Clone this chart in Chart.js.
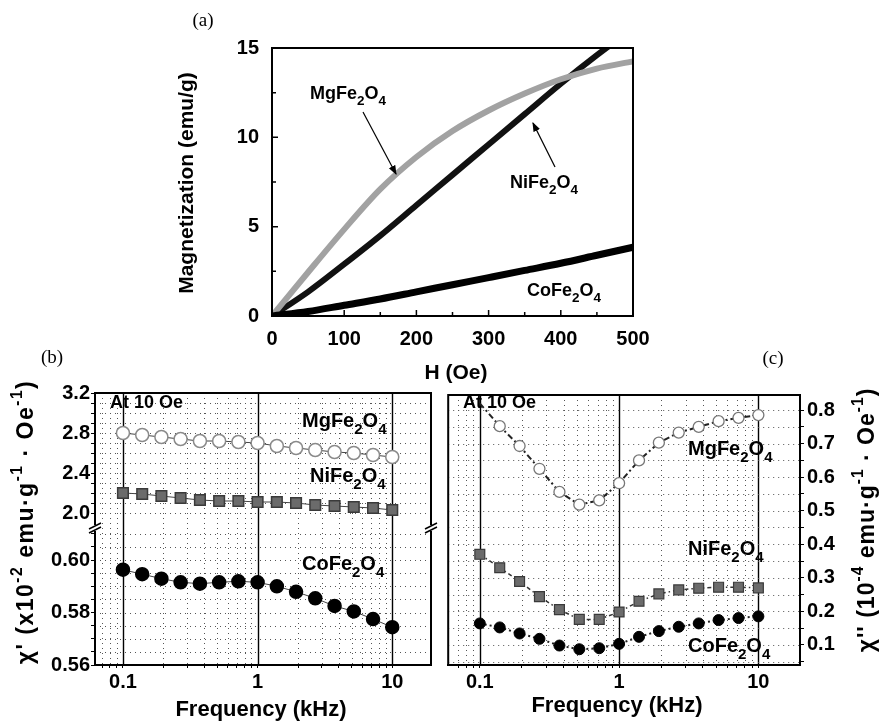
<!DOCTYPE html>
<html>
<head>
<meta charset="utf-8">
<script src="https://cdn.jsdelivr.net/npm/chart.js@4.4.1/dist/chart.umd.min.js"></script>
<style>
  html, body { margin: 0; padding: 0; background: #fff; }
  #page { position: relative; width: 884px; height: 727px; overflow: hidden;
          font-family: 'Liberation Sans', Arial, sans-serif; }
  canvas { position: absolute; }
  .t { position: absolute; font-weight: bold; white-space: nowrap; line-height: 1; color: #000; }
  .t sub { font-size: 75%; vertical-align: -0.45em; line-height: 0; }
  .t sup { font-size: 68%; vertical-align: 0.65em; line-height: 0; }
  .c { transform: translate(-50%, -50%); }
  .l { transform: translateY(-50%); }
  .rot { transform: translate(-50%, -50%) rotate(-90deg); }
  .panel { position: absolute; font-family: 'Liberation Serif', 'Times New Roman', serif;
           font-size: 19px; transform: translate(-50%, -50%); }
</style>
</head>
<body>
<div id="page">
  <canvas id="chartA" width="500" height="320" style="left:160px;top:30px"></canvas>
  <canvas id="chartB" width="440" height="320" style="left:0px;top:380px"></canvas>
  <canvas id="chartC" width="444" height="320" style="left:440px;top:380px"></canvas>

  <svg width="884" height="727" style="position:absolute;left:0;top:0;pointer-events:none">
    <defs>
      <marker id="ah" markerWidth="8" markerHeight="8" refX="7" refY="4" orient="auto">
        <path d="M0,1 L8,4 L0,7 z" fill="#000"/>
      </marker>
    </defs>
    <line x1="363" y1="112" x2="396" y2="174" stroke="#000" stroke-width="1.2" marker-end="url(#ah)"/>
    <line x1="555" y1="167" x2="533" y2="123" stroke="#000" stroke-width="1.2" marker-end="url(#ah)"/>
  </svg>

  <!-- panel letters -->
  <div class="panel" style="left:203px;top:20px">(a)</div>
  <div class="panel" style="left:52px;top:357px">(b)</div>
  <div class="panel" style="left:773px;top:358px">(c)</div>

  <!-- panel (a) texts -->
  <div class="t rot" style="left:185px;top:183px;font-size:21px">Magnetization (emu/g)</div>
  <div class="t c" style="left:456px;top:371px;font-size:21px">H (Oe)</div>
  <div class="t l" style="left:310px;top:93px;font-size:18px">MgFe<sub>2</sub>O<sub>4</sub></div>
  <div class="t l" style="left:510px;top:182px;font-size:18px">NiFe<sub>2</sub>O<sub>4</sub></div>
  <div class="t l" style="left:527px;top:290px;font-size:18px">CoFe<sub>2</sub>O<sub>4</sub></div>

  <!-- panel (b) texts -->
  <div class="t rot" style="left:25px;top:522px;font-size:23px;letter-spacing:1.5px">&chi;' (x10<sup>-2</sup> emu&middot;g<sup>-1</sup> &middot; Oe<sup>-1</sup>)</div>
  <div class="t c" style="left:261px;top:709px;font-size:22px">Frequency (kHz)</div>
  <div class="t l" style="left:110px;top:402px;font-size:18px">At 10 Oe</div>
  <div class="t l" style="left:302px;top:420px;font-size:20px">MgFe<sub>2</sub>O<sub>4</sub></div>
  <div class="t l" style="left:310px;top:475px;font-size:20px">NiFe<sub>2</sub>O<sub>4</sub></div>
  <div class="t l" style="left:302px;top:563px;font-size:20px">CoFe<sub>2</sub>O<sub>4</sub></div>

  <!-- panel (c) texts -->
  <div class="t rot" style="left:866px;top:520px;font-size:23px;letter-spacing:1px">&chi;'' (10<sup>-4</sup> emu&middot;g<sup>-1</sup> &middot; Oe<sup>-1</sup>)</div>
  <div class="t c" style="left:617px;top:705px;font-size:22px">Frequency (kHz)</div>
  <div class="t l" style="left:463px;top:402px;font-size:18px">At 10 Oe</div>
  <div class="t l" style="left:688px;top:448px;font-size:20px">MgFe<sub>2</sub>O<sub>4</sub></div>
  <div class="t l" style="left:688px;top:548px;font-size:20px">NiFe<sub>2</sub>O<sub>4</sub></div>
  <div class="t l" style="left:688px;top:645px;font-size:20px">CoFe<sub>2</sub>O<sub>4</sub></div>
</div>

<script>
// (a) magnetization vs field
var fieldH = [0, 50, 100, 150, 200, 250, 300, 350, 400, 450, 500];
var magMg = [0, 2.45, 4.85, 7.1, 8.9, 10.35, 11.5, 12.45, 13.25, 13.85, 14.25];
var magNi = [0, 1.35, 2.9, 4.5, 6.2, 7.9, 9.6, 11.3, 13.0, 14.6, 16.1];
var magCo = [0, 0.25, 0.6, 0.95, 1.35, 1.75, 2.15, 2.55, 2.95, 3.4, 3.85];

// (b), (c) susceptibility vs frequency
var freqKHz = [0.1, 0.139, 0.193, 0.268, 0.373, 0.518, 0.72, 1.0, 1.39, 1.93, 2.68, 3.73, 5.18, 7.2, 10];
var chiRealMg = [2.80, 2.78, 2.76, 2.74, 2.72, 2.72, 2.71, 2.70, 2.67, 2.65, 2.63, 2.61, 2.60, 2.58, 2.56];
var chiRealNi = [2.20, 2.19, 2.17, 2.15, 2.13, 2.12, 2.12, 2.11, 2.11, 2.10, 2.08, 2.07, 2.06, 2.05, 2.03];
var chiRealCo = [0.5963, 0.5946, 0.5929, 0.5915, 0.5910, 0.5915, 0.5919, 0.5915, 0.5900, 0.5879, 0.5854, 0.5825, 0.5804, 0.5775, 0.5744];
var chiImagMg = [0.82, 0.752, 0.693, 0.625, 0.556, 0.518, 0.531, 0.582, 0.650, 0.703, 0.733, 0.750, 0.767, 0.777, 0.785];
var chiImagNi = [0.370, 0.330, 0.289, 0.244, 0.205, 0.176, 0.176, 0.198, 0.230, 0.252, 0.264, 0.269, 0.272, 0.272, 0.270];
var chiImagCo = [0.164, 0.152, 0.134, 0.118, 0.098, 0.087, 0.090, 0.103, 0.124, 0.141, 0.154, 0.164, 0.174, 0.180, 0.185];

// ticks / grid
var freqGrid = [0.07, 0.08, 0.09, 0.1, 0.2, 0.3, 0.4, 0.5, 0.6, 0.7, 0.8, 0.9,
                1, 2, 3, 4, 5, 6, 7, 8, 9, 10];
var freqLabels = [0.1, 1, 10];
var chiHiTicks = [2.0, 2.1, 2.2, 2.3, 2.4, 2.5, 2.6, 2.7, 2.8, 2.9, 3.0, 3.1, 3.2];
var chiHiLabels = [2.0, 2.4, 2.8, 3.2];
var chiLoTicks = [0.56, 0.565, 0.57, 0.575, 0.58, 0.585, 0.59, 0.595, 0.60, 0.605, 0.61];
var chiLoLabels = [0.56, 0.58, 0.60];
var chiImTicks = [0.05, 0.1, 0.15, 0.2, 0.25, 0.3, 0.35, 0.4, 0.45, 0.5, 0.55, 0.6, 0.65, 0.7, 0.75, 0.8];
var chiImLabels = [0.1, 0.2, 0.3, 0.4, 0.5, 0.6, 0.7, 0.8];

Chart.defaults.font.family = "'Liberation Sans', Arial, sans-serif";
Chart.defaults.color = '#000';

function pts(xs, ys) {
    return xs.map(function (x, i) { return { x: x, y: ys[i] }; });
}

function has(list, v) {
    return list.some(function (u) { return Math.abs(u - v) < 1e-9; });
}

var boldTick = { size: 20, weight: 'bold' };

var frame = {
    id: 'frame',
    afterDraw: function (chart) {
        var a = chart.chartArea, ctx = chart.ctx;
        ctx.save();
        ctx.strokeStyle = '#000';
        ctx.lineWidth = 2;
        ctx.strokeRect(a.left, a.top, a.right - a.left, a.bottom - a.top);
        ctx.restore();
    }
};

// dotted grid, solid lines at the decades
var dotGrid = {
    id: 'dotGrid',
    beforeDatasetsDraw: function (chart) {
        var ctx = chart.ctx, a = chart.chartArea;
        ctx.save();
        Object.keys(chart.scales).forEach(function (id) {
            var s = chart.scales[id];
            var horiz = s.isHorizontal();
            s.ticks.forEach(function (t) {
                var major = horiz && has(freqLabels, t.value);
                var p = Math.round(s.getPixelForValue(t.value)) + 0.5;
                if (!horiz && (p < s.top + 1 || p > s.bottom - 1)) return;
                ctx.beginPath();
                ctx.setLineDash(major ? [] : [1, 4]);
                ctx.strokeStyle = major ? '#000' : '#555';
                ctx.lineWidth = major ? 1.4 : 1;
                if (horiz) { ctx.moveTo(p, a.top); ctx.lineTo(p, a.bottom); }
                else { ctx.moveTo(a.left, p); ctx.lineTo(a.right, p); }
                ctx.stroke();
            });
        });
        ctx.restore();
    }
};

var innerTicks = {
    id: 'innerTicks',
    afterDraw: function (chart) {
        var ctx = chart.ctx, a = chart.chartArea, x = chart.scales.x, y = chart.scales.y;
        ctx.save();
        ctx.strokeStyle = '#000';
        ctx.lineWidth = 1.5;
        ctx.beginPath();
        x.ticks.forEach(function (t) {
            var px = x.getPixelForValue(t.value);
            var len = t.value % 100 === 0 ? 6 : 4;
            ctx.moveTo(px, a.bottom); ctx.lineTo(px, a.bottom - len);
        });
        y.ticks.forEach(function (t) {
            var py = y.getPixelForValue(t.value);
            var len = t.value % 5 === 0 ? 6 : 4;
            ctx.moveTo(a.left, py); ctx.lineTo(a.left + len, py);
        });
        ctx.stroke();
        ctx.restore();
    }
};

var axisBreak = {
    id: 'axisBreak',
    afterDraw: function (chart) {
        var ctx = chart.ctx, a = chart.chartArea, y = chart.scales.yLo.top;
        ctx.save();
        ctx.strokeStyle = '#000';
        ctx.lineWidth = 1.5;
        [a.left, a.right].forEach(function (x) {
            ctx.fillStyle = '#fff';
            ctx.fillRect(x - 3, y - 3, 6, 6);
            ctx.beginPath();
            ctx.moveTo(x - 6, y + 1); ctx.lineTo(x + 6, y - 5);
            ctx.moveTo(x - 6, y + 5); ctx.lineTo(x + 6, y - 1);
            ctx.stroke();
        });
        ctx.restore();
    }
};

function freqAxis(min, max) {
    return {
        type: 'logarithmic', min: min, max: max,
        afterBuildTicks: function (s) {
            s.ticks = freqGrid.filter(function (v) { return v >= min && v <= max; })
                .map(function (v) { return { value: v }; });
        },
        afterFit: function (s) { s.height = 35; },
        ticks: {
            autoSkip: false, maxRotation: 0, padding: 2, font: boldTick,
            callback: function (v) { return has(freqLabels, v) ? String(v) : ''; }
        },
        grid: { drawOnChartArea: false, tickLength: 3, color: '#000' },
        border: { color: '#000', width: 2 }
    };
}

function valueAxis(opts) {
    return {
        type: 'linear', position: opts.position, min: opts.min, max: opts.max,
        stack: opts.stack, stackWeight: opts.weight,
        afterBuildTicks: function (s) {
            s.ticks = opts.ticks.map(function (v) { return { value: v }; });
        },
        afterFit: function (s) { s.width = opts.width; },
        ticks: {
            autoSkip: false, padding: opts.padding, font: boldTick,
            callback: function (v) { return has(opts.labels, v) ? v.toFixed(opts.digits) : ''; }
        },
        grid: { drawOnChartArea: false, tickLength: 4, color: '#000' },
        border: { color: '#000', width: 2 }
    };
}

// ---------- (a)
new Chart(document.getElementById('chartA'), {
    type: 'line',
    data: {
        datasets: [
            { data: pts(fieldH, magCo), borderColor: '#000', borderWidth: 7 },
            { data: pts(fieldH, magMg), borderColor: '#a2a2a2', borderWidth: 6 },
            { data: pts(fieldH, magNi), borderColor: '#111', borderWidth: 6 },
            { data: pts(fieldH, magNi), borderColor: '#707070', borderWidth: 3 }
        ]
    },
    options: {
        responsive: false, animation: false,
        layout: { padding: { top: 18, right: 27 } },
        elements: { point: { radius: 0 }, line: { cubicInterpolationMode: 'monotone' } },
        datasets: { line: { clip: 1 } },
        plugins: { legend: { display: false }, tooltip: { enabled: false } },
        scales: {
            x: {
                type: 'linear', min: 0, max: 500,
                afterFit: function (s) { s.height = 34; },
                ticks: {
                    stepSize: 50, autoSkip: false, maxRotation: 0, padding: 3, font: boldTick,
                    callback: function (v) { return v % 100 === 0 ? v : ''; }
                },
                grid: { display: false },
                border: { color: '#000', width: 2 }
            },
            y: {
                type: 'linear', min: 0, max: 15,
                afterFit: function (s) { s.width = 112; },
                ticks: {
                    stepSize: 2.5, autoSkip: false, padding: 5, font: boldTick,
                    callback: function (v) { return v % 5 === 0 ? v : ''; }
                },
                grid: { display: false },
                border: { color: '#000', width: 2 }
            }
        }
    },
    plugins: [frame, innerTicks]
});

// ---------- (b)
var lineB = { showLine: true, borderColor: '#444', borderWidth: 1, pointBorderWidth: 1.5 };
new Chart(document.getElementById('chartB'), {
    type: 'scatter',
    data: {
        datasets: [
            Object.assign({}, lineB, { data: pts(freqKHz, chiRealMg), yAxisID: 'yHi',
                pointStyle: 'circle', pointRadius: 6.5, pointBackgroundColor: '#fff', pointBorderColor: '#8a8a8a' }),
            Object.assign({}, lineB, { data: pts(freqKHz, chiRealNi), yAxisID: 'yHi',
                pointStyle: 'rect', pointRadius: 7.5, pointBackgroundColor: '#6b6b6b', pointBorderColor: '#3a3a3a' }),
            Object.assign({}, lineB, { data: pts(freqKHz, chiRealCo), yAxisID: 'yLo',
                pointStyle: 'circle', pointRadius: 6.5, pointBackgroundColor: '#000', pointBorderColor: '#000' })
        ]
    },
    options: {
        responsive: false, animation: false,
        layout: { padding: { top: 13, right: 7 } },
        plugins: { legend: { display: false }, tooltip: { enabled: false } },
        scales: {
            x: freqAxis(0.062, 19.4),
            yLo: valueAxis({ position: 'left', stack: 'b', weight: 137, min: 0.56, max: 0.6122,
                ticks: chiLoTicks, labels: chiLoLabels, digits: 2, width: 95, padding: 1 }),
            yHi: valueAxis({ position: 'left', stack: 'b', weight: 135, min: 1.85, max: 3.2,
                ticks: chiHiTicks, labels: chiHiLabels, digits: 1, width: 95, padding: 1 })
        }
    },
    plugins: [dotGrid, frame, axisBreak]
});

// ---------- (c)
new Chart(document.getElementById('chartC'), {
    type: 'scatter',
    data: {
        datasets: [
            { data: pts(freqKHz, chiImagMg), showLine: true, borderColor: '#222', borderWidth: 2,
              borderDash: [6, 3, 2, 3],
              pointStyle: 'circle', pointRadius: [0, 5.5, 5.5, 5.5, 5.5, 5.5, 5.5, 5.5, 5.5, 5.5, 5.5, 5.5, 5.5, 5.5, 5.5],
              pointBorderWidth: 1.3, pointBackgroundColor: '#fff', pointBorderColor: '#777' },
            { data: pts(freqKHz, chiImagNi), showLine: true, borderColor: '#333', borderWidth: 1.5,
              borderDash: [4, 3, 1.5, 3],
              pointStyle: 'rect', pointRadius: 7, pointBorderWidth: 1.2,
              pointBackgroundColor: '#6b6b6b', pointBorderColor: '#3a3a3a' },
            { data: pts(freqKHz, chiImagCo), showLine: true, borderColor: '#222', borderWidth: 2,
              borderDash: [2, 3],
              pointStyle: 'circle', pointRadius: 5.5, pointBorderWidth: 1,
              pointBackgroundColor: '#000', pointBorderColor: '#000' }
        ]
    },
    options: {
        responsive: false, animation: false,
        layout: { padding: { top: 12, left: 4 } },
        plugins: { legend: { display: false }, tooltip: { enabled: false } },
        scales: {
            x: freqAxis(0.0593, 19.9),
            y: valueAxis({ position: 'right', min: 0.04, max: 0.845,
                ticks: chiImTicks, labels: chiImLabels, digits: 1, width: 84, padding: 3 })
        }
    },
    plugins: [dotGrid, frame]
});
</script>
</body>
</html>
